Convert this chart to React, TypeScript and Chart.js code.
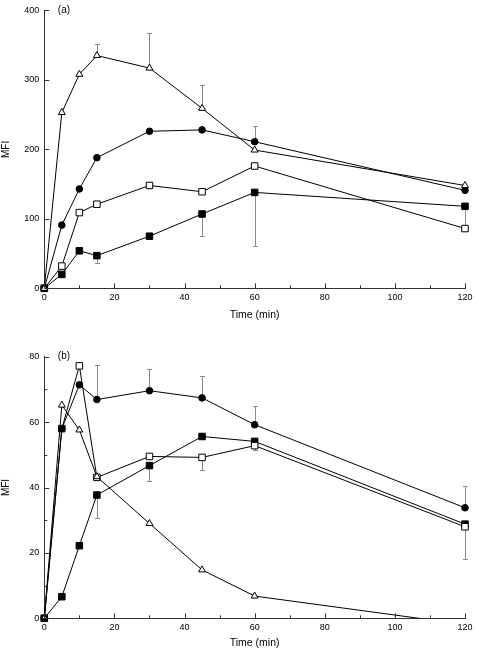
import React, { useEffect, useRef } from 'react';
import { Chart, registerables } from 'chart.js';
Chart.register(...registerables);

// Time points (min)
const TIMES = [0, 5, 10, 15, 30, 45, 60, 120];

// Panel (a)
const A_TRIANGLE = [0, 253, 308, 335, 317, 259, 199, 148];
const A_TRIANGLE_HI = [null, null, null, 352, 367, 292, null, null];
const A_CIRCLE = [0, 91, 143, 188, 226, 228, 211, 141];
const A_CIRCLE_HI = [null, null, null, null, null, null, 234, null];
const A_OPEN_SQ = [0, 32, 109, 121, 148, 139, 176, 86];
const A_FILLED_SQ = [0, 20, 54, 47, 75, 107, 138, 118];
const A_FILLED_SQ_LO = [null, null, null, 36, null, 75, 61, 86];

// Panel (b)
const B_TRIANGLE = [0, 65.2, 57.6, 43.3, 29.0, 14.8, 6.8, -1.9];
const B_CIRCLE = [0, 58.0, 71.4, 66.9, 69.6, 67.4, 59.2, 33.8];
const B_CIRCLE_HI = [null, null, null, 77.5, 76.3, 74.0, 65.0, 40.4];
const B_OPEN_SQ = [0, 58.0, 77.2, 43.1, 49.5, 49.2, 52.8, 28.0];
const B_OPEN_SQ_LO = [null, null, null, null, null, 45.3, 51.4, 18.0];
const B_FILLED_SQ = [0, 6.6, 22.2, 37.7, 46.7, 55.6, 54.1, 28.8];
const B_FILLED_SQ_LO = [null, null, null, 30.6, 41.9, null, null, null];

const X_TICKS_MAJOR = 20;
const X_TICKS_MINOR = 10;

const FONT = '"Liberation Sans", Arial, Helvetica, sans-serif';

const pts = (vals: number[]) => TIMES.map((t, i) => ({ x: t, y: vals[i] }));

const errorBarPlugin = {
  id: 'errbars',
  beforeDatasetsDraw(chart: any) {
    const { ctx } = chart;
    const xs = chart.scales.x;
    const ys = chart.scales.y;
    ctx.save();
    ctx.strokeStyle = '#8a8a8a';
    ctx.lineWidth = 1;
    chart.data.datasets.forEach((ds: any) => {
      const ends: (number | null)[] | undefined = ds.errEnds;
      if (!ends) return;
      ds.data.forEach((p: any, i: number) => {
        const e = ends[i];
        if (e === null || e === undefined) return;
        const x = Math.round(xs.getPixelForValue(p.x)) + 0.5;
        const y0 = ys.getPixelForValue(p.y);
        const y1 = Math.round(ys.getPixelForValue(e)) + 0.5;
        ctx.beginPath();
        ctx.moveTo(x, y0);
        ctx.lineTo(x, y1);
        ctx.moveTo(x - 2.5, y1);
        ctx.lineTo(x + 2.5, y1);
        ctx.stroke();
      });
    });
    ctx.restore();
  },
};

const tickPlugin = {
  id: 'innerTicks',
  afterDraw(chart: any) {
    const { ctx } = chart;
    const o = chart.options.plugins.innerTicks;
    const xs = chart.scales.x;
    const ys = chart.scales.y;
    const ca = chart.chartArea;
    ctx.save();
    ctx.strokeStyle = '#333';
    ctx.lineWidth = 1;
    ctx.beginPath();
    for (let v = xs.min; v <= xs.max + 1e-9; v += o.xMinor) {
      const x = Math.round(xs.getPixelForValue(v)) + 0.5;
      const len = Math.abs(v % o.xMajor) < 1e-9 ? 5 : 3;
      ctx.moveTo(x, ca.bottom);
      ctx.lineTo(x, ca.bottom - len);
    }
    for (let v = ys.min; v <= ys.max + 1e-9; v += o.yMinor) {
      const y = Math.round(ys.getPixelForValue(v)) + 0.5;
      const len = Math.abs(v % o.yMajor) < 1e-9 ? 5 : 3;
      ctx.moveTo(ca.left, y);
      ctx.lineTo(ca.left + len, y);
    }
    ctx.stroke();
    // panel label
    ctx.fillStyle = '#000';
    ctx.font = `10px ${FONT}`;
    ctx.textAlign = 'left';
    ctx.textBaseline = 'middle';
    ctx.fillText(o.label, ca.left + 13.5, ca.top);
    ctx.restore();
  },
};

function makeConfig(p: {
  tri: number[]; triEnds?: (number | null)[];
  circ: number[]; circEnds?: (number | null)[];
  open: number[]; openEnds?: (number | null)[];
  fill: number[]; fillEnds?: (number | null)[];
  yMax: number; yStep: number; yMinor: number; yMajor: number;
  label: string; padTop: number; xHeight: number; titlePadBottom: number;
  triClip?: any;
}) {
  const common = {
    borderColor: '#000',
    borderWidth: 1,
    pointBorderColor: '#000',
    pointBorderWidth: 1,
    tension: 0,
    fill: false,
  };
  return {
    type: 'line',
    data: {
      datasets: [
        {
          ...common, data: pts(p.tri), errEnds: p.triEnds,
          pointStyle: 'triangle', pointRadius: 4, pointBackgroundColor: '#fff',
          clip: p.triClip ?? false,
        },
        {
          ...common, data: pts(p.circ), errEnds: p.circEnds,
          pointStyle: 'circle', pointRadius: 3.3, pointBackgroundColor: '#000', clip: false,
        },
        {
          ...common, data: pts(p.open), errEnds: p.openEnds,
          pointStyle: 'rect', pointRadius: 4.6, pointBackgroundColor: '#fff', clip: false,
        },
        {
          ...common, data: pts(p.fill), errEnds: p.fillEnds,
          pointStyle: 'rect', pointRadius: 4.6, pointBackgroundColor: '#000', clip: false,
        },
      ],
    },
    options: {
      responsive: false,
      animation: false,
      devicePixelRatio: 1,
      layout: { padding: { left: 0, right: 14, top: p.padTop, bottom: 0 } },
      plugins: {
        legend: { display: false },
        tooltip: { enabled: false },
        innerTicks: { xMinor: X_TICKS_MINOR, xMajor: X_TICKS_MAJOR, yMinor: p.yMinor, yMajor: p.yMajor, label: p.label },
      },
      scales: {
        x: {
          type: 'linear',
          min: 0,
          max: 120,
          afterFit: (s: any) => { s.height = p.xHeight; },
          grid: { display: false, drawTicks: false },
          border: { display: true, color: '#333', width: 1 },
          ticks: {
            stepSize: X_TICKS_MAJOR,
            padding: 4,
            color: '#000',
            font: { family: FONT, size: 9 },
          },
          title: {
            display: true,
            text: 'Time (min)',
            color: '#000',
            font: { family: FONT, size: 10.5 },
            padding: { top: 0, bottom: p.titlePadBottom },
          },
        },
        y: {
          type: 'linear',
          min: 0,
          max: p.yMax,
          afterFit: (s: any) => { s.width = 44.3; },
          grid: { display: false, drawTicks: false },
          border: { display: true, color: '#333', width: 1 },
          ticks: {
            stepSize: p.yStep,
            padding: 5,
            color: '#000',
            font: { family: FONT, size: 9 },
          },
          title: {
            display: true,
            text: 'MFI',
            color: '#000',
            font: { family: FONT, size: 10 },
            padding: { top: 0, bottom: 0 },
          },
        },
      },
    },
    plugins: [errorBarPlugin, tickPlugin],
  } as any;
}

function Panel({ config, top }: { config: any; top: number }) {
  const ref = useRef<HTMLCanvasElement | null>(null);
  useEffect(() => {
    if (!ref.current) return;
    const chart = new Chart(ref.current, config);
    return () => chart.destroy();
  }, [config]);
  return (
    <canvas
      ref={ref}
      width={479}
      height={325}
      style={{ position: 'absolute', left: 0, top, width: 479, height: 325 }}
    />
  );
}

const CONFIG_A = makeConfig({
  tri: A_TRIANGLE, triEnds: A_TRIANGLE_HI,
  circ: A_CIRCLE, circEnds: A_CIRCLE_HI,
  open: A_OPEN_SQ,
  fill: A_FILLED_SQ, fillEnds: A_FILLED_SQ_LO,
  yMax: 400, yStep: 100, yMinor: 100, yMajor: 100,
  label: '(a)', padTop: 6, xHeight: 36.7, titlePadBottom: 3.7,
});

const CONFIG_B = makeConfig({
  tri: B_TRIANGLE,
  circ: B_CIRCLE, circEnds: B_CIRCLE_HI,
  open: B_OPEN_SQ, openEnds: B_OPEN_SQ_LO,
  fill: B_FILLED_SQ, fillEnds: B_FILLED_SQ_LO,
  yMax: 80, yStep: 20, yMinor: 10, yMajor: 20,
  label: '(b)', padTop: 31.7, xHeight: 31.7, titlePadBottom: 0.4,
  triClip: { left: 10, right: 10, top: 10, bottom: 0 },
});

export default function App() {
  return (
    <div style={{ position: 'absolute', left: 0, top: 0, width: 479, height: 650, background: '#fff' }}>
      <Panel config={CONFIG_A} top={0} />
      <Panel config={CONFIG_B} top={325} />
    </div>
  );
}
